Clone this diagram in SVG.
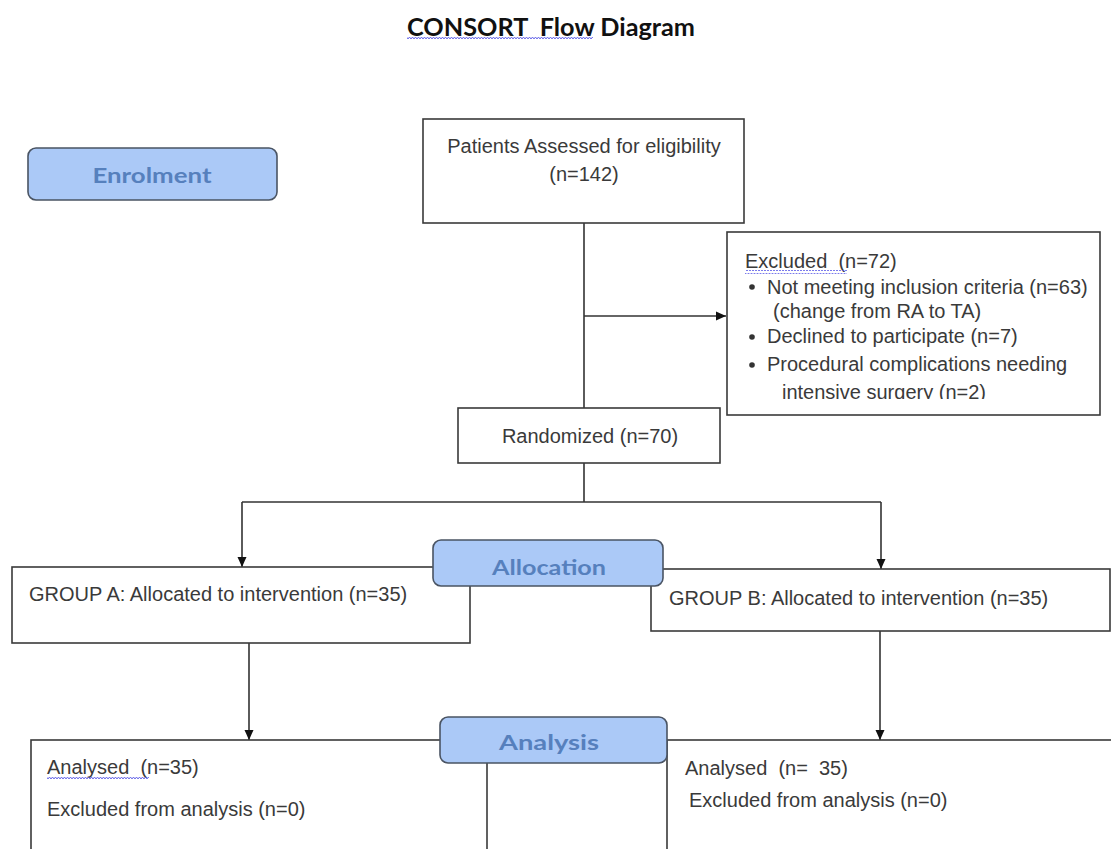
<svg xmlns="http://www.w3.org/2000/svg" width="1111" height="849" viewBox="0 0 1111 849">
<defs>
<marker id="arr" markerUnits="userSpaceOnUse" markerWidth="10" markerHeight="10" viewBox="0 0 10 10" refX="10" refY="5" orient="auto">
<path d="M0,0.5 L10,5 L0,9.5 Z" fill="#111"/>
</marker>
<clipPath id="exclip"><rect x="727" y="232" width="373" height="167"/></clipPath>
<pattern id="sq" width="6" height="4" patternUnits="userSpaceOnUse"><path d="M0,3 L1.5,1 L3,3 L4.5,1 L6,3" fill="none" stroke="#5a5ae6" stroke-width="0.9"/></pattern>
</defs>
<style>
.box{fill:#fff;stroke:#3a3a3a;stroke-width:1.6}
.stage{fill:#abc9f7;stroke:#4a5463;stroke-width:1.6}
.t{font-family:"Liberation Sans",Arial,sans-serif;font-size:20px;fill:#3a3a3a;white-space:pre}
.st{font-family:Lato,"Open Sans",sans-serif;font-weight:bold;font-size:21px;fill:#5680bd;text-anchor:middle}
.ln{fill:none;stroke:#333;stroke-width:1.6}
.sq{fill:url(#sq)}
.bul{fill:#333}
</style>
<rect width="1111" height="849" fill="#fff"/>
<g id="title">
<text x="407" y="36" font-family="Lato,'Open Sans',sans-serif" font-weight="bold" font-size="24" fill="#111" textLength="288" lengthAdjust="spacingAndGlyphs" xml:space="preserve">CONSORT  Flow Diagram</text>
<rect class="sq" x="407" y="37" width="186" height="4"/>
</g>
<g id="connectors">
<line class="ln" x1="584" y1="223" x2="584" y2="408"/>
<line class="ln" x1="584" y1="316" x2="726" y2="316" marker-end="url(#arr)"/>
<line class="ln" x1="584" y1="463" x2="584" y2="502"/>
<line class="ln" x1="242" y1="502" x2="881" y2="502"/>
<line class="ln" x1="242" y1="502" x2="242" y2="567" marker-end="url(#arr)"/>
<line class="ln" x1="881" y1="502" x2="881" y2="569" marker-end="url(#arr)"/>
<line class="ln" x1="249" y1="643" x2="249" y2="740" marker-end="url(#arr)"/>
<line class="ln" x1="880" y1="631" x2="880" y2="740" marker-end="url(#arr)"/>
</g>
<g id="enrolment">
<rect class="stage" x="28" y="148" width="249" height="52" rx="8"/>
<text class="st" x="152" y="183" textLength="119" lengthAdjust="spacingAndGlyphs">Enrolment</text>
</g>
<g id="assessed">
<rect class="box" x="423" y="119" width="321" height="104"/>
<text class="t" x="584" y="153" text-anchor="middle">Patients Assessed for eligibility</text>
<text class="t" x="584" y="181" text-anchor="middle">(n=142)</text>
</g>
<g id="excluded">
<rect class="box" x="727" y="232" width="373" height="183"/>
<g clip-path="url(#exclip)">
<text class="t" x="745" y="268">Excluded  (n=72)</text>
<rect class="sq" x="745" y="270" width="102" height="4"/>
<circle class="bul" cx="752" cy="287" r="2.8"/>
<text class="t" x="767" y="294">Not meeting inclusion criteria (n=63)</text>
<text class="t" x="773" y="318">(change from RA to TA)</text>
<circle class="bul" cx="752" cy="337" r="2.8"/>
<text class="t" x="767" y="343">Declined to participate (n=7)</text>
<circle class="bul" cx="752" cy="365" r="2.8"/>
<text class="t" x="767" y="371">Procedural complications needing</text>
<text class="t" x="782" y="399">intensive surgery (n=2)</text>
</g>
</g>
<g id="randomized">
<rect class="box" x="458" y="408" width="262" height="55"/>
<text class="t" x="590" y="443" text-anchor="middle">Randomized (n=70)</text>
</g>
<g id="groupA">
<rect class="box" x="12" y="567" width="458" height="76"/>
<text class="t" x="29" y="601">GROUP A: Allocated to intervention (n=35)</text>
</g>
<g id="groupB">
<rect class="box" x="651" y="569" width="459" height="62"/>
<text class="t" x="669" y="605">GROUP B: Allocated to intervention (n=35)</text>
</g>
<g id="allocation">
<rect class="stage" x="433" y="540" width="230" height="46" rx="8"/>
<text class="st" x="549" y="575" textLength="114" lengthAdjust="spacingAndGlyphs">Allocation</text>
</g>
<g id="analysedA">
<rect class="box" x="31" y="740" width="456" height="130"/>
<text class="t" x="47" y="774">Analysed  (n=35)</text>
<rect class="sq" x="47" y="776" width="102" height="4"/>
<text class="t" x="47" y="816">Excluded from analysis (n=0)</text>
</g>
<g id="analysedB">
<rect class="box" x="667" y="740" width="460" height="130"/>
<text class="t" x="685" y="775">Analysed  (n=  35)</text>
<text class="t" x="689" y="807">Excluded from analysis (n=0)</text>
</g>
<g id="analysis">
<rect class="stage" x="440" y="717" width="227" height="46" rx="8"/>
<text class="st" x="549" y="750" textLength="100" lengthAdjust="spacingAndGlyphs">Analysis</text>
</g>
</svg>
